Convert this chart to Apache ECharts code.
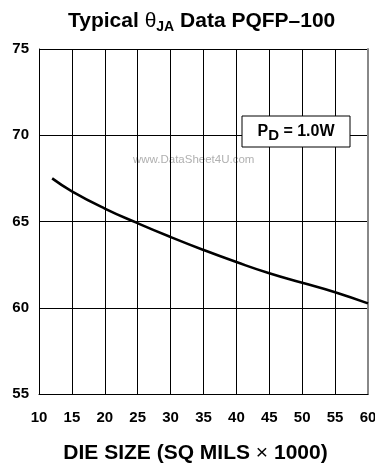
<!DOCTYPE html>
<html><head><meta charset="utf-8">
<script src="https://cdn.jsdelivr.net/npm/echarts@6/dist/echarts.min.js"></script>
<style>html,body{margin:0;padding:0;background:#fff}#c{width:375px;height:467px}</style>
</head><body><div id="c"></div>
<script>
const dieSize = [12, 15, 20, 25, 30, 35, 40, 45, 50, 55, 60];
const thetaJA = [67.5, 66.75, 65.75, 64.9, 64.1, 63.35, 62.65, 62.0, 61.45, 60.9, 60.25];
const xTicks = [10, 15, 20, 25, 30, 35, 40, 45, 50, 55, 60];
const yTicks = [55, 60, 65, 70, 75];

const F = '"Liberation Sans", Arial, sans-serif';
const chart = echarts.init(document.getElementById('c'));
chart.setOption({
  animation: false,
  backgroundColor: '#fff',
  title: {
    text: 'Typical {th|θ}{sub|JA} Data PQFP–100',
    left: 63, top: 4,
    textStyle: {
      fontFamily: F, fontSize: 21, fontWeight: 'bold', color: '#000',
      rich: {
        th: {fontFamily: F, fontSize: 21, fontWeight: 'normal', color: '#000'},
        sub: {fontFamily: F, fontSize: 14, fontWeight: 'bold', color: '#000', verticalAlign: 'bottom', padding: [11, 0, 0, 0]}
      }
    }
  },
  grid: {left: 39, right: 7, top: 49, bottom: 73, outerBoundsMode: 'none', containLabel: false},
  xAxis: {
    type: 'value', min: xTicks[0], max: xTicks[xTicks.length - 1], interval: 5,
    name: 'DIE SIZE (SQ MILS {x|×} 1000)', nameLocation: 'middle', nameGap: 49,
    nameTextStyle: {fontFamily: F, fontSize: 21, fontWeight: 'bold', color: '#000', padding: [0, 16, 0, 0],
      rich: {x: {fontFamily: F, fontSize: 21, fontWeight: 'normal', color: '#000'}}},
    axisLine: {show: true, lineStyle: {color: '#000', width: 1}},
    axisTick: {show: false},
    axisLabel: {fontFamily: F, fontSize: 15, fontWeight: 'bold', color: '#000', margin: 16,
      formatter: v => xTicks.includes(v) ? String(v) : ''},
    splitLine: {show: true, lineStyle: {color: '#000', width: 1}}
  },
  yAxis: [{
    type: 'value', min: yTicks[0], max: yTicks[yTicks.length - 1], interval: 5,
    axisLine: {show: true, lineStyle: {color: '#000', width: 1}},
    axisTick: {show: false},
    axisLabel: {fontFamily: F, fontSize: 15, fontWeight: 'bold', color: '#000', margin: 10,
      formatter: v => yTicks.includes(v) ? String(v) : ''},
    splitLine: {show: true, lineStyle: {color: '#000', width: 1}}
  }, {
    type: 'value', position: 'right', min: yTicks[0], max: yTicks[yTicks.length - 1], interval: 5,
    axisLine: {show: true, lineStyle: {color: '#888', width: 2}},
    axisTick: {show: false}, axisLabel: {show: false}, splitLine: {show: false}
  }],
  series: [{
    type: 'line', smooth: true, symbol: 'none',
    data: dieSize.map((x, i) => [x, thetaJA[i]]),
    lineStyle: {color: '#000', width: 2.5}
  }],
  graphic: [
    {type: 'text', left: 133, top: 154,
      style: {text: 'www.DataSheet4U.com', fontFamily: F, fontSize: 11.5, fill: '#b0b0b0'}},
    {type: 'rect', shape: {x: 242, y: 116, width: 108, height: 31},
      style: {fill: '#fff', stroke: '#000', lineWidth: 1}, z: 100},
    {type: 'text', x: 296, y: 132, z: 101,
      style: {text: '{p|P}{d|D}{p| = 1.0W}', align: 'center', verticalAlign: 'middle',
        rich: {
          p: {fontFamily: F, fontSize: 16, fontWeight: 'bold', fill: '#000'},
          d: {fontFamily: F, fontSize: 15, fontWeight: 'bold', fill: '#000', padding: [7, 0, 0, 0]}
        }}}
  ]
});
</script></body></html>
